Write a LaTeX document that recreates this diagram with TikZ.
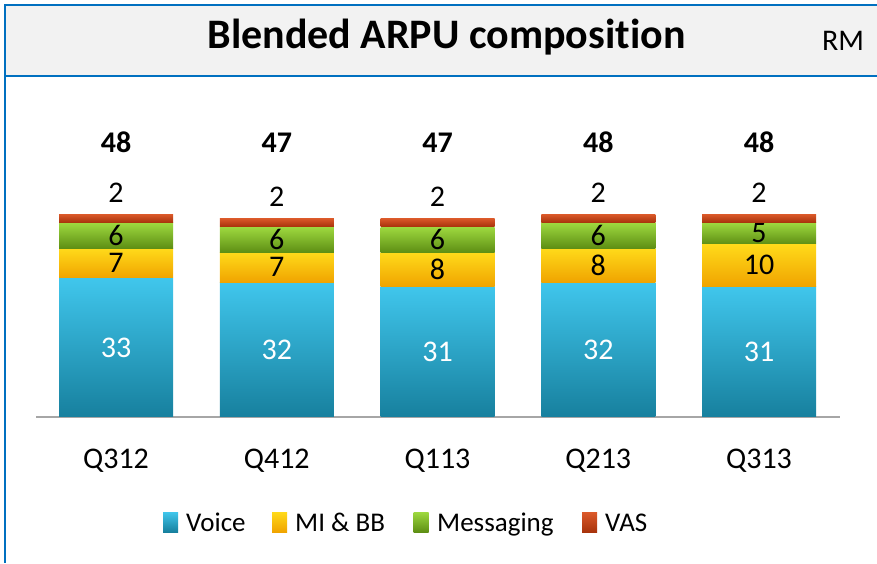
\documentclass[tikz,border=0pt]{standalone}
\usepackage{fontspec}
\setmainfont{Carlito}[RawFeature={-liga;-clig;-dlig}]
\usetikzlibrary{positioning}
\definecolor{frameblue}{HTML}{0070C0}
\definecolor{titlegray}{HTML}{F2F2F2}
\definecolor{axisgray}{HTML}{A6A6A6}
\definecolor{voicetop}{HTML}{40C6EC}
\definecolor{voicebot}{HTML}{17809E}
\definecolor{mibbtop}{HTML}{FFDA1A}
\definecolor{mibbbot}{HTML}{F0A400}
\definecolor{msgtop}{HTML}{9ED93F}
\definecolor{msgbot}{HTML}{5E8F14}
\definecolor{vastop}{HTML}{DC5A2A}
\definecolor{vasbot}{HTML}{A8330C}
\newcommand{\labelfont}{\fontsize{30}{36}\selectfont}
\newcommand{\legendfont}{\fontsize{27}{32}\selectfont}
\begin{document}
\begin{tikzpicture}[x=1pt, y=-1pt,
    seg/.style={draw=none, minimum width=114pt, inner sep=0pt, anchor=south, font=\labelfont},
    voicefill/.style={top color=voicetop, bottom color=voicebot},
    mibbfill/.style={top color=mibbtop, bottom color=mibbbot},
    msgfill/.style={top color=msgtop, bottom color=msgbot},
    vasfill/.style={top color=vastop, bottom color=vasbot},
    legbox/.style={draw=none, minimum width=15pt, minimum height=20pt, inner sep=0pt},
    legtext/.style={inner sep=0pt, anchor=base west, font=\legendfont}]
  \useasboundingbox (0,0) rectangle (877,563);

  % frame and title bar
  \fill[titlegray] (5,5) rectangle (877,76);
  \draw[frameblue, line width=2pt] (877,5) -- (5,5) -- (5,563);
  \draw[frameblue, line width=2pt] (5,76) -- (877,76);
  \node[anchor=base, font=\fontsize{42}{50}\selectfont\bfseries] (title) at (446.5,48) {Blended ARPU composit\kern0pt ion};
  \node[anchor=base, font=\labelfont] (unit) at (843,50) {RM};

  % axis
  \coordinate (axl) at (36,417);
  \coordinate (axr) at (840,417);
  \draw[axisgray, line width=2pt] (axl) -- (axr);

  % stacked bars
  \foreach \q/\v/\m/\s/\a/\t [count=\i from 0] in
    {Q312/33/7/6/2/48, Q412/32/7/6/2/47, Q113/31/8/6/2/47,
     Q213/32/8/6/2/48, Q313/31/10/5/2/48}
  {
    \pgfmathsetmacro\cx{116+\i*160.75}
    \node[seg, voicefill, text=white, minimum height={\v*4.2pt}] (v\i) at (\cx,417) {\v};
    \node[seg, mibbfill, minimum height={\m*4.2pt}] (m\i) at (v\i.north) {\m};
    \node[seg, msgfill, minimum height={\s*4.2pt}] (s\i) at (m\i.north) {\s};
    \node[seg, vasfill, minimum height={\a*4.2pt}] (a\i) at (s\i.north) {};
    \node[font=\labelfont, inner sep=0pt, above=11pt of a\i.north, anchor=south] (al\i) {\a};
    \path (\cx,152) node[anchor=base, font=\labelfont\bfseries] (t\i) {\t};
    \path (\cx,468) node[anchor=base, font=\labelfont] (q\i) {\q};
  }

  % legend
  \node[legbox, voicefill] (lv) at (170.5,522) {};
  \node[legtext] (lvt) at (186,531) {Voice};
  \node[legbox, mibbfill] (lm) at (279.5,522) {};
  \node[legtext] (lmt) at (295,531) {MI \& BB};
  \node[legbox, msgfill] (ls) at (421,522) {};
  \node[legtext] (lst) at (437,531) {Messaging};
  \node[legbox, vasfill] (la) at (589.5,522) {};
  \node[legtext] (lat) at (605,531) {VAS};
\end{tikzpicture}
\end{document}
